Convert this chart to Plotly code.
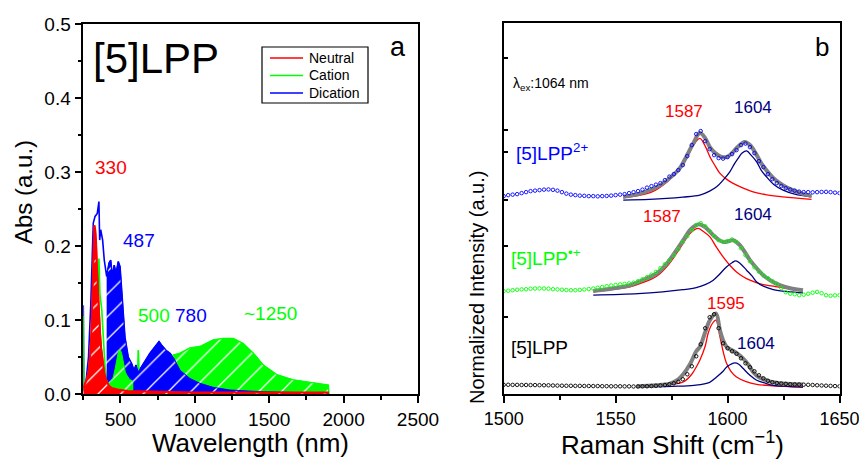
import numpy as np
import plotly.graph_objects as go

W, H = 859, 459
FONT = "Liberation Sans, Arial, sans-serif"
RED, GREEN, BLUE, NAVY, GRAY = "#FF0000", "#00FF00", "#0000FF", "#000080", "#808080"

# ---------------- Panel a : absorption spectra ----------------
neutral_nm = [250, 270, 285, 295, 305, 312, 318, 324, 330, 336, 342, 348, 355, 362, 370, 380, 392, 405,
              420, 440, 480, 550, 700, 1000, 1500, 1900]
neutral_abs = [0.008, 0.018, 0.03, 0.05, 0.085, 0.14, 0.2, 0.228, 0.222, 0.205, 0.17, 0.14, 0.11, 0.085,
               0.062, 0.042, 0.027, 0.018, 0.012, 0.008, 0.006, 0.004, 0.003, 0.002, 0.002, 0.002]

cation_nm = [250, 253, 270, 300, 330, 340, 348, 355, 357, 362, 374, 384, 396, 407, 420, 440, 452, 465, 474,
             484, 492, 500, 508, 516, 523, 532, 541, 560, 586, 605, 615, 620, 625, 650, 700, 750, 800,
             850, 900, 967, 1034, 1079, 1124, 1191, 1258, 1325, 1393, 1460, 1550, 1661, 1796, 1897, 1900]
cation_abs = [0.105, 0.005, 0.004, 0.006, 0.04, 0.12, 0.15, 0.183, 0.14, 0.135, 0.114, 0.077, 0.037, 0.019,
              0.013, 0.018, 0.023, 0.035, 0.046, 0.055, 0.06, 0.059, 0.055, 0.046, 0.037, 0.03, 0.026, 0.02,
              0.017, 0.018, 0.02, 0.059, 0.02, 0.021, 0.028, 0.036, 0.044, 0.052, 0.055, 0.062, 0.064,
              0.068, 0.073, 0.075, 0.075, 0.068, 0.055, 0.039, 0.026, 0.019, 0.0145, 0.012, 0.0]

dication_nm = [250, 253, 265, 285, 300, 310, 317, 329, 344, 355, 360, 367, 380, 391, 407, 423, 434, 445,
               458, 470, 485, 497, 508, 519, 530, 552, 575, 591, 604, 620, 642, 665, 698, 732, 759, 777,
               806, 833, 860, 880, 901, 967, 1034, 1123, 1236, 1460, 1700, 1900]
dication_abs = [0.12, 0.004, 0.01, 0.05, 0.12, 0.19, 0.231, 0.24, 0.244, 0.26, 0.208, 0.222, 0.208, 0.181,
                0.159, 0.177, 0.181, 0.159, 0.174, 0.163, 0.179, 0.172, 0.14, 0.109, 0.077, 0.05, 0.041,
                0.032, 0.039, 0.03, 0.037, 0.046, 0.055, 0.064, 0.071, 0.066, 0.059, 0.055, 0.048, 0.04,
                0.032, 0.021, 0.0145, 0.009, 0.0054, 0.003, 0.002, 0.001]

# ---------------- Panel b : Raman spectra ----------------
raman_x = list(range(1500, 1651, 2))
dication_raman = [1.98, 1.99, 1.995, 2.0, 2.01, 2.02, 2.03, 2.035, 2.04, 2.045, 2.047, 2.043, 2.035, 2.02,
                  2.005, 1.995, 1.99, 1.985, 1.983, 1.98, 1.98, 1.978, 1.98, 1.982, 1.985, 1.99, 1.995, 2.0,
                  2.01, 2.02, 2.03, 2.045, 2.065, 2.08, 2.095, 2.11, 2.14, 2.175, 2.2, 2.24, 2.29, 2.38,
                  2.49, 2.6, 2.63, 2.53, 2.45, 2.39, 2.36, 2.355, 2.37, 2.4, 2.44, 2.49, 2.505, 2.47, 2.41,
                  2.33, 2.27, 2.2, 2.15, 2.11, 2.08, 2.06, 2.045, 2.035, 2.025, 2.02, 2.02, 2.018, 2.02,
                  2.022, 2.023, 2.02, 2.015, 2.01]
cation_raman = [1.03, 1.035, 1.04, 1.045, 1.048, 1.05, 1.055, 1.057, 1.058, 1.057, 1.055, 1.05, 1.048, 1.045,
                1.042, 1.04, 1.04, 1.043, 1.047, 1.052, 1.057, 1.065, 1.072, 1.08, 1.087, 1.093, 1.098,
                1.103, 1.108, 1.115, 1.13, 1.15, 1.17, 1.195, 1.223, 1.26, 1.3, 1.34, 1.39, 1.45, 1.52,
                1.58, 1.64, 1.69, 1.71, 1.68, 1.63, 1.58, 1.54, 1.523, 1.53, 1.547, 1.52, 1.46, 1.39, 1.33,
                1.27, 1.225, 1.19, 1.16, 1.13, 1.105, 1.06, 1.02, 1.005, 1.0, 0.99, 0.995, 1.005, 1.015,
                1.023, 1.01, 0.99, 0.985, 0.988, 0.99]
neutral_raman = [0.095, 0.095, 0.094, 0.094, 0.093, 0.093, 0.092, 0.092, 0.091, 0.09, 0.09, 0.088, 0.087,
                 0.086, 0.085, 0.085, 0.084, 0.084, 0.083, 0.083, 0.082, 0.082, 0.081, 0.081, 0.08, 0.08,
                 0.08, 0.079, 0.079, 0.078, 0.078, 0.079, 0.08, 0.082, 0.085, 0.088, 0.093, 0.1, 0.11,
                 0.125, 0.15, 0.2, 0.28, 0.38, 0.5, 0.66, 0.77, 0.8, 0.66, 0.51, 0.46, 0.43, 0.405, 0.36,
                 0.31, 0.27, 0.23, 0.19, 0.16, 0.135, 0.12, 0.112, 0.107, 0.104, 0.1, 0.098, 0.097, 0.096,
                 0.095, 0.093, 0.09, 0.088, 0.086, 0.084, 0.082, 0.08]

# fitted envelopes and Lorentzian components
dic_fit_x = [1553.4, 1560, 1565.3, 1570, 1575.7, 1579, 1581.7, 1584.5, 1587.6, 1590, 1592.1, 1594.5, 1597,
             1599.5, 1602, 1604.5, 1607.6, 1610, 1612.5, 1615, 1617.3, 1620.5, 1624.7, 1628, 1632.3, 1637.5]
dic_fit_y = [1.973, 2.0, 2.04, 2.09, 2.19, 2.27, 2.38, 2.5, 2.61, 2.56, 2.47, 2.41, 2.375, 2.37, 2.41, 2.47,
             2.52, 2.49, 2.41, 2.31, 2.24, 2.16, 2.09, 2.05, 2.013, 1.98]
dic_c1_x = [1553.4, 1560, 1566, 1572.8, 1577, 1581.7, 1584.5, 1587.6, 1590, 1592.1, 1594.5, 1596.6, 1599.5,
            1602.5, 1607, 1611.4, 1617, 1624.8, 1637.5]
dic_c1_y = [1.963, 1.985, 2.02, 2.12, 2.22, 2.357, 2.48, 2.557, 2.48, 2.373, 2.28, 2.207, 2.15, 2.107, 2.06,
            2.023, 1.995, 1.973, 1.947]
dic_c2_x = [1553.4, 1565, 1572.8, 1580, 1587.6, 1592, 1595.1, 1598, 1601, 1603, 1604.7, 1606.5, 1608.5,
            1610.5, 1613, 1615, 1617.4, 1620.5, 1624.8, 1630, 1637.5]
dic_c2_y = [1.94, 1.948, 1.957, 1.97, 1.99, 2.03, 2.073, 2.14, 2.223, 2.3, 2.357, 2.41, 2.433, 2.39, 2.323,
            2.24, 2.173, 2.1, 2.04, 2.0, 1.973]

cat_fit_x = [1540, 1548, 1556.4, 1562, 1568.3, 1573, 1577.2, 1580.5, 1583.2, 1585.5, 1587.3, 1590, 1593.6,
             1596, 1598, 1600.5, 1602.5, 1605.5, 1608, 1610, 1613, 1615.9, 1619, 1623.3, 1628, 1633.7]
cat_fit_y = [1.033, 1.055, 1.09, 1.14, 1.207, 1.31, 1.44, 1.55, 1.64, 1.685, 1.70, 1.67, 1.59, 1.545, 1.523,
             1.53, 1.54, 1.49, 1.41, 1.34, 1.26, 1.19, 1.14, 1.09, 1.06, 1.04]
cat_c1_x = [1540, 1548, 1556.4, 1562, 1568.3, 1573, 1577.2, 1580.5, 1583.2, 1586.9, 1589, 1592.1, 1595, 1598,
            1601, 1604, 1607, 1610, 1615, 1620.4, 1627, 1633.7]
cat_c1_y = [1.023, 1.045, 1.073, 1.115, 1.18, 1.28, 1.407, 1.52, 1.607, 1.657, 1.63, 1.573, 1.47, 1.373,
            1.29, 1.223, 1.175, 1.14, 1.1, 1.08, 1.055, 1.033]
cat_c2_x = [1540, 1560, 1571, 1580, 1586, 1590, 1593.6, 1596, 1599.5, 1602, 1603.7, 1605.5, 1608.5, 1611,
            1613, 1616, 1620.4, 1627, 1633.7]
cat_c2_y = [0.99, 1.005, 1.023, 1.045, 1.067, 1.095, 1.14, 1.19, 1.273, 1.315, 1.333, 1.31, 1.24, 1.18,
            1.123, 1.08, 1.047, 1.025, 1.013]

neu_fit_x = [1559.4, 1568, 1574.2, 1578, 1580.2, 1583.2, 1586, 1587.6, 1590, 1592.1, 1594.8, 1596.6, 1598,
             1599.6, 1601.5, 1603.3, 1607, 1609.5, 1611.4, 1614, 1617.4, 1620.4, 1624.8, 1633.7]
neu_fit_y = [0.08, 0.09, 0.107, 0.15, 0.2, 0.3, 0.43, 0.473, 0.62, 0.74, 0.807, 0.64, 0.54, 0.473, 0.445,
             0.423, 0.357, 0.29, 0.223, 0.17, 0.14, 0.12, 0.107, 0.097]
neu_c1_x = [1559.4, 1570, 1580.2, 1584, 1586.2, 1587.6, 1590, 1591.3, 1593, 1594.8, 1596.6, 1598, 1599.6,
            1601.5, 1604, 1608, 1613, 1620, 1633.7]
neu_c1_y = [0.073, 0.09, 0.123, 0.2, 0.28, 0.34, 0.48, 0.607, 0.70, 0.74, 0.573, 0.43, 0.307, 0.23, 0.173,
            0.13, 0.1, 0.085, 0.073]
neu_c2_x = [1559.4, 1575, 1585, 1592, 1595.1, 1598, 1599.6, 1601.5, 1603.3, 1605, 1607, 1610, 1613, 1617,
            1620.4, 1627, 1633.7]
neu_c2_y = [0.073, 0.08, 0.09, 0.12, 0.173, 0.23, 0.273, 0.3, 0.313, 0.3, 0.257, 0.19, 0.14, 0.11, 0.09,
            0.08, 0.073]

legend_names = ["Neutral", "Cation", "Dication"]
legend_colors = [RED, GREEN, BLUE]
peak_labels_a = ["330", "487", "500", "780", "~1250"]
raman_peak_labels = ["1587", "1604", "1587", "1604", "1595", "1604"]
raman_xticks = [1500, 1550, 1600, 1650]
raman_xminor = [1525, 1575, 1625]
raman_yticks = [0.77, 1.48, 1.94, 2.42, 2.64, 3.36]


def px(x):
    return x / W


def py(y):
    return 1 - y / H


fig = go.Figure()


def sel(xs, ys, lo, hi):
    pts = [(a, b) for a, b in zip(xs, ys) if lo <= a <= hi]
    return [p[0] for p in pts], [p[1] for p in pts]


def pattern(color):
    return dict(shape="/", bgcolor=color, fgcolor="white", size=16, solidity=0.08, fillmode="replace")


# outlines (drawn beneath the fills)
fig.add_trace(go.Scatter(x=dication_nm, y=dication_abs, mode="lines", name=legend_names[2],
                         line=dict(color=BLUE, width=1.6), xaxis="x", yaxis="y"))
fig.add_trace(go.Scatter(x=cation_nm, y=cation_abs, mode="lines", name=legend_names[1],
                         line=dict(color=GREEN, width=1.6), xaxis="x", yaxis="y"))
fig.add_trace(go.Scatter(x=neutral_nm, y=neutral_abs, mode="lines", name=legend_names[0],
                         line=dict(color=RED, width=1.6), xaxis="x", yaxis="y"))

# green broad band
gx, gy = sel(cation_nm, cation_abs, 600, 1900)
fig.add_trace(go.Scatter(x=gx, y=gy, mode="lines", fill="tozeroy", fillcolor=GREEN, fillpattern=pattern(GREEN),
                         line=dict(color=GREEN, width=1), xaxis="x", yaxis="y"))
# blue band
bx, by = sel(dication_nm, dication_abs, 407, 1900)
fig.add_trace(go.Scatter(x=bx, y=by, mode="lines", fill="tozeroy", fillcolor=BLUE, fillpattern=pattern(BLUE),
                         line=dict(color=BLUE, width=1), xaxis="x", yaxis="y"))
# green 500 nm band
gx2, gy2 = sel(cation_nm, cation_abs, 407, 600)
fig.add_trace(go.Scatter(x=gx2, y=gy2, mode="lines", fill="tozeroy", fillcolor=GREEN, fillpattern=pattern(GREEN),
                         line=dict(color=GREEN, width=1), xaxis="x", yaxis="y"))
# red band
fig.add_trace(go.Scatter(x=neutral_nm, y=neutral_abs, mode="lines", fill="tozeroy", fillcolor=RED,
                         fillpattern=pattern(RED), line=dict(color=RED, width=2), xaxis="x", yaxis="y"))

# ---- panel b traces ----
for fx, fy, c1x, c1y, c2x, c2y in [
    (dic_fit_x, dic_fit_y, dic_c1_x, dic_c1_y, dic_c2_x, dic_c2_y),
    (cat_fit_x, cat_fit_y, cat_c1_x, cat_c1_y, cat_c2_x, cat_c2_y),
    (neu_fit_x, neu_fit_y, neu_c1_x, neu_c1_y, neu_c2_x, neu_c2_y),
]:
    fig.add_trace(go.Scatter(x=c1x, y=c1y, mode="lines", line=dict(color=RED, width=1.3, shape="spline"),
                             xaxis="x2", yaxis="y2"))
    fig.add_trace(go.Scatter(x=c2x, y=c2y, mode="lines", line=dict(color=NAVY, width=1.3, shape="spline"),
                             xaxis="x2", yaxis="y2"))
    fig.add_trace(go.Scatter(x=fx, y=fy, mode="lines", line=dict(color=GRAY, width=4, shape="spline"),
                             xaxis="x2", yaxis="y2"))

for ys, col in [(dication_raman, BLUE), (cation_raman, GREEN), (neutral_raman, "black")]:
    fig.add_trace(go.Scatter(x=raman_x, y=ys, mode="markers",
                             marker=dict(symbol="circle-open", size=3.5, color=col, line=dict(width=0.9, color=col)),
                             xaxis="x2", yaxis="y2"))

# ---------------- axes ----------------
dom_ax = [px(83.3), px(418)]
dom_ay = [py(394), py(24)]
dom_bx = [px(503.7), px(839.5)]
dom_by = [py(394.3), py(23)]

common = dict(showgrid=False, zeroline=False, linecolor="black", linewidth=1.5, tickcolor="black",
              tickwidth=1.5, automargin=False, ticklabeloverflow="allow",
              tickfont=dict(family=FONT, size=19, color="black"))
mt = dict(tickcolor="black", tickwidth=1.5)

fig.update_layout(
    xaxis=dict(domain=dom_ax, range=[250, 2500], anchor="y", tick0=0, dtick=500, ticks="outside", ticklen=7,
               showline=True, mirror=True, minor=dict(dtick=250, tick0=0, ticks="outside", ticklen=4, **mt),
               **common),
    yaxis=dict(domain=dom_ay, range=[0, 0.5], anchor="x", dtick=0.1, tickformat=".1f", ticks="outside",
               ticklen=7, showline=True, mirror=True,
               minor=dict(dtick=0.05, ticks="outside", ticklen=4, **mt), **common),
    xaxis3=dict(overlaying="x", side="top", anchor="y", range=[250, 2500], tick0=0, dtick=500, ticks="inside",
                ticklen=7, showticklabels=False, showline=False,
                minor=dict(dtick=250, tick0=0, ticks="inside", ticklen=4, **mt), **common),
    yaxis3=dict(overlaying="y", side="right", anchor="x", range=[0, 0.5], dtick=0.1, ticks="inside",
                ticklen=7, showticklabels=False, showline=False,
                minor=dict(dtick=0.05, ticks="inside", ticklen=4, **mt), **common),
    xaxis2=dict(domain=dom_bx, range=[1500, 1650], anchor="y2", tickmode="array", tickvals=raman_xticks,
                ticktext=[str(v) for v in raman_xticks], ticks="outside", ticklen=7,
                showline=True, mirror=True,
                minor=dict(tickmode="array", tickvals=raman_xminor, ticks="outside", ticklen=4, **mt),
                **{**common, "tickfont": dict(family=FONT, size=18, color="black")}),
    yaxis2=dict(domain=dom_by, range=[0, 3.71], anchor="x2", tickmode="array", tickvals=raman_yticks,
                ticks="inside", ticklen=5, showticklabels=False, showline=True, mirror=True, **common),
    xaxis4=dict(overlaying="x2", side="top", anchor="y2", range=[1500, 1650], tickmode="array",
                tickvals=raman_xticks, ticks="inside", ticklen=7, showticklabels=False, showline=False,
                minor=dict(tickmode="array", tickvals=raman_xminor, ticks="inside", ticklen=4, **mt), **common),
    yaxis4=dict(overlaying="y2", side="right", anchor="x2", range=[0, 3.71], tickmode="array",
                tickvals=raman_yticks, ticks="inside", ticklen=5, showticklabels=False, showline=False, **common),
)

# ---------------- annotations ----------------
ann = []
shapes = []


def txt(x, y, s, size, color="black", xanchor="center", angle=0):
    ann.append(dict(x=px(x), y=py(y), xref="paper", yref="paper", text=s, showarrow=False, textangle=angle,
                    xanchor=xanchor, yanchor="middle", font=dict(family=FONT, size=size, color=color)))


# legend box (panel a)
shapes.append(dict(type="rect", xref="paper", yref="paper", x0=px(262), x1=px(368), y0=py(103), y1=py(47),
                   line=dict(color="black", width=1.2), fillcolor="white", layer="above"))
for i, (name, col) in enumerate(zip(legend_names, legend_colors)):
    yy = 58 + i * 17.5
    shapes.append(dict(type="line", xref="paper", yref="paper", x0=px(270), x1=px(303), y0=py(yy), y1=py(yy),
                       line=dict(color=col, width=1.6), layer="above"))
    txt(307, yy, name, 14, xanchor="left")

txt(91, 58, "[5]LPP", 42, xanchor="left")
txt(398, 47, "a", 27)
txt(111, 167, peak_labels_a[0], 19, RED)
txt(139, 241, peak_labels_a[1], 19, BLUE)
txt(154, 315, peak_labels_a[2], 19, GREEN)
txt(191, 315, peak_labels_a[3], 19, BLUE)
txt(270, 313, peak_labels_a[4], 19, GREEN)
txt(23, 192, "Abs (a.u.)", 24, angle=-90)
txt(250, 443, "Wavelength (nm)", 26)

txt(822, 47, "b", 26)
txt(511, 84, "λ<sub>ex</sub>:1064 nm", 14, xanchor="left")
txt(684, 112, raman_peak_labels[0], 17, RED)
txt(753, 107, raman_peak_labels[1], 17, NAVY)
txt(514, 152, "[5]LPP<sup>2+</sup>", 19, BLUE, xanchor="left")
txt(662, 216, raman_peak_labels[2], 17, RED)
txt(753, 215, raman_peak_labels[3], 17, NAVY)
txt(509, 257, "[5]LPP<sup>•+</sup>", 19, GREEN, xanchor="left")
txt(726, 303, raman_peak_labels[4], 17, RED)
txt(756, 343, raman_peak_labels[5], 17, NAVY)
txt(509, 347, "[5]LPP", 19, xanchor="left")
txt(477, 287, "Normalized Intensity (a.u.)", 20, angle=-90)
txt(672, 443, "Raman Shift (cm<sup>−1</sup>)", 26)

fig.update_layout(
    annotations=ann, shapes=shapes,
    width=W, height=H, margin=dict(l=0, r=0, t=0, b=0, autoexpand=False),
    paper_bgcolor="white", plot_bgcolor="white",
    font=dict(family=FONT, color="black"),
    showlegend=False,
)

fig.write_html("out.html")
